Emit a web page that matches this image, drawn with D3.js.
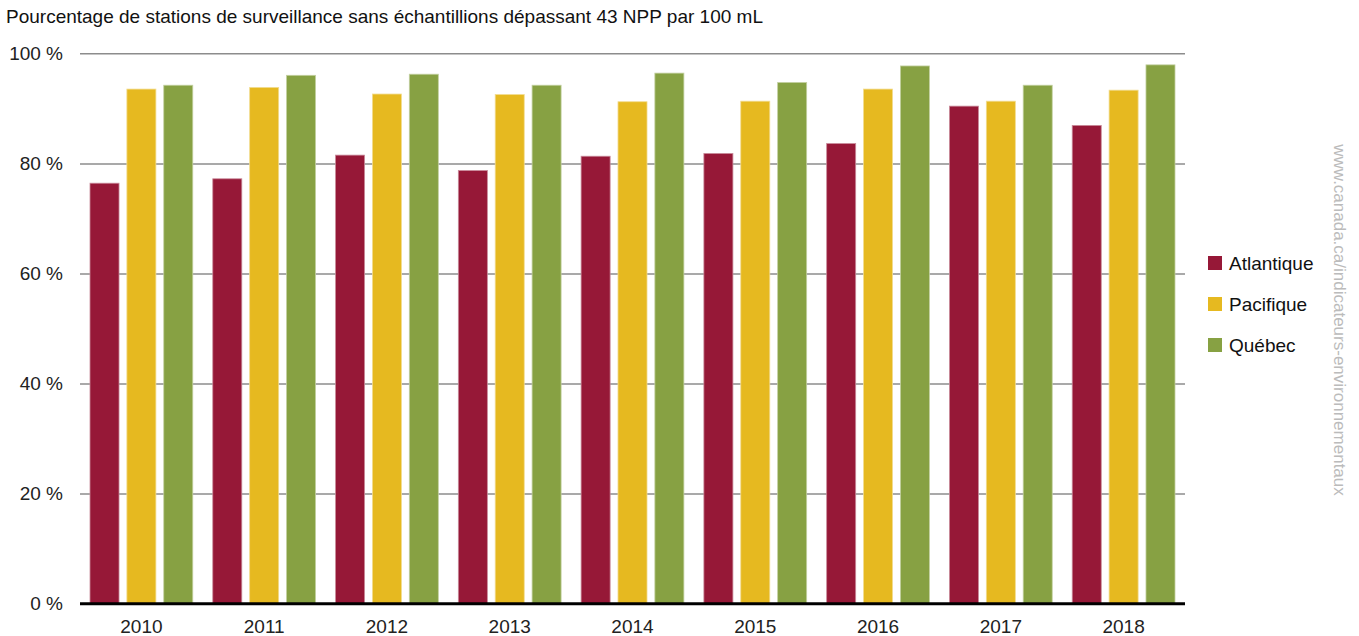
<!DOCTYPE html>
<html><head><meta charset="utf-8">
<script src="https://cdn.jsdelivr.net/npm/d3@7"></script>
<style>body{margin:0;background:#fff}svg{display:block;font-family:"Liberation Sans",Arial,sans-serif}</style>
</head><body>
<svg id="c" width="1359" height="636"></svg>
<script>
const years = ["2010","2011","2012","2013","2014","2015","2016","2017","2018"];
const seriesNames = ["Atlantique","Pacifique","Québec"];
const atlantique = [76.4,77.2,81.5,78.7,81.3,81.8,83.6,90.4,86.9];
const pacifique  = [93.5,93.8,92.6,92.5,91.2,91.3,93.5,91.3,93.3];
const quebec     = [94.2,96.0,96.2,94.2,96.4,94.7,97.7,94.2,97.9];
const yTicks = [0,20,40,60,80,100];
const colors = ["#961837","#e6b920","#87a143"];
const strokes = ["#c98a9a","#f2dc8f","#c3d0a1"];

const series = [atlantique, pacifique, quebec];
const svg = d3.select("#c");
const L = 80, R = 1185, T = 53.3, B = 603.7;
const FS = 19;

const x0 = d3.scaleBand().domain(years).range([L, R]).padding(0);
const x1 = d3.scaleBand().domain(seriesNames).range([10, x0.bandwidth() - 10]).paddingInner(0.213).paddingOuter(0);
const y = d3.scaleLinear().domain([0, 100]).range([B, T]);

// title
svg.append("text").attr("x", 6).attr("y", 23).attr("font-size", FS).attr("fill", "#111")
  .text("Pourcentage de stations de surveillance sans échantillions dépassant 43 NPP par 100 mL");

// gridlines + y labels
const yAxis = d3.axisLeft(y).tickValues(yTicks).tickSize(-(R - L)).tickFormat(d => d + " %").tickPadding(17);
const gy = svg.append("g").attr("transform", `translate(${L},0)`).call(yAxis);
gy.select(".domain").remove();
gy.selectAll(".tick line").attr("stroke", "#8c8c8c").attr("stroke-width", 1.5);
gy.selectAll(".tick text").attr("font-size", FS).attr("fill", "#222").attr("font-family", "Liberation Sans, Arial, sans-serif");

// bars
const g = svg.append("g");
years.forEach((yr, i) => {
  seriesNames.forEach((s, j) => {
    const v = series[j][i];
    g.append("rect")
      .attr("x", x0(yr) + x1(s))
      .attr("y", y(v))
      .attr("width", x1.bandwidth())
      .attr("height", y(0) - y(v))
      .attr("fill", colors[j])
      .attr("stroke", strokes[j]).attr("stroke-width", 0.8);
  });
});

// baseline
svg.append("line").attr("x1", L).attr("x2", R).attr("y1", y(0)).attr("y2", y(0))
  .attr("stroke", "#000").attr("stroke-width", 3);

// x axis labels
const xAxis = d3.axisBottom(x0).tickSize(0).tickPadding(16);
const gx = svg.append("g").attr("transform", `translate(0,${B})`).call(xAxis);
gx.select(".domain").remove();
gx.selectAll(".tick text").attr("font-size", FS).attr("fill", "#222").attr("font-family", "Liberation Sans, Arial, sans-serif");

// legend
const lg = svg.append("g");
seriesNames.forEach((s, j) => {
  const cy = 263 + j * 41;
  lg.append("rect").attr("x", 1208).attr("y", cy - 7).attr("width", 14).attr("height", 14).attr("fill", colors[j]);
  lg.append("text").attr("x", 1229).attr("y", cy + 7).attr("font-size", FS).attr("fill", "#111").text(s);
});

// watermark
svg.append("text").attr("transform", "translate(1334,320) rotate(90)").attr("text-anchor", "middle")
  .attr("font-size", 17).attr("fill", "#bbbbbb").text("www.canada.ca/indicateurs-environnementaux");
</script>
</body></html>
